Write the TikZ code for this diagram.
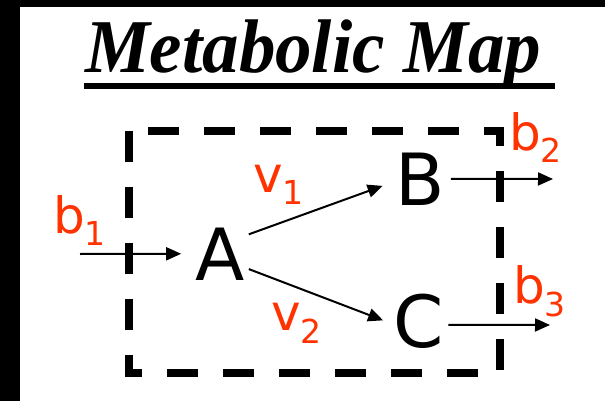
\documentclass[tikz,border=0pt]{standalone}
\usepackage{fontspec}
\setmainfont{Liberation Serif}
\newfontfamily\mapfont{DejaVu Sans}
\usepackage{xcolor}
\usepackage{tikz}
\usetikzlibrary{arrows.meta, calc}
\definecolor{fluxred}{HTML}{FF3300}
\newcommand{\sublab}[2]{#1\raisebox{-13pt}{\fontsize{33}{33}\selectfont #2}}

\begin{document}
\begin{tikzpicture}[x=1pt, y=-1pt,
    metab/.style={inner sep=4pt, anchor=base,
      font=\mapfont\fontsize{72}{72}\selectfont},
    flux/.style={inner sep=0pt, anchor=base west, text=fluxred,
      font=\mapfont\fontsize{50}{50}\selectfont},
    heading/.style={inner sep=0pt, anchor=base,
      font=\bfseries\itshape\fontsize{76}{76}\selectfont},
    arrow/.style={line width=2pt, -{Triangle[length=15pt, width=13pt]}},
    boundary/.style={line width=8pt, dash pattern=on 31pt off 25pt,
      dash phase=37pt}
]
\useasboundingbox (0,0) rectangle (605,401);
\fill[white] (0,0) rectangle (605,401);
\fill[black] (0,0) rectangle (20,401);
\fill[black] (0,0) rectangle (605,7);

\node[heading] (title) at (313,73) {\scalebox{0.96}[1]{Metabolic Map}};
\draw[line width=6pt] ($(title.base west)+(-1,13)$) -- ($(title.base east)+(14,13)$);

\draw[boundary] (129,131) -- (500,131) -- (500,373) -- (129,373) -- cycle;

\node[metab] (A) at (220,280) {A};
\node[metab] (B) at (420,205) {B};
\node[metab] (C) at (419,347) {C};

\coordinate (in1)  at (80,254);
\coordinate (out2) at (553,179);
\coordinate (out3) at (550,325);

\draw[arrow, shorten >=10pt] (in1) -- (A.west);
\draw[arrow, shorten >=9pt] (A.34) -- (B.188);
\draw[arrow, shorten >=7pt] (A.-28) -- (C.184);
\draw[arrow, shorten <=2pt] (B.east) -- (out2);
\draw[arrow] ([yshift=-4pt]C.east) -- (out3);

\node[flux] (b1) at (53,233) {\sublab{b}{1}};
\node[flux] (v1) at (253,192) {\sublab{v}{1}};
\node[flux] (v2) at (271,330) {\sublab{v}{2}};
\node[flux] (b2) at (509,150) {\sublab{b}{2}};
\node[flux] (b3) at (513,303) {\sublab{b}{3}};
\end{tikzpicture}
\end{document}
